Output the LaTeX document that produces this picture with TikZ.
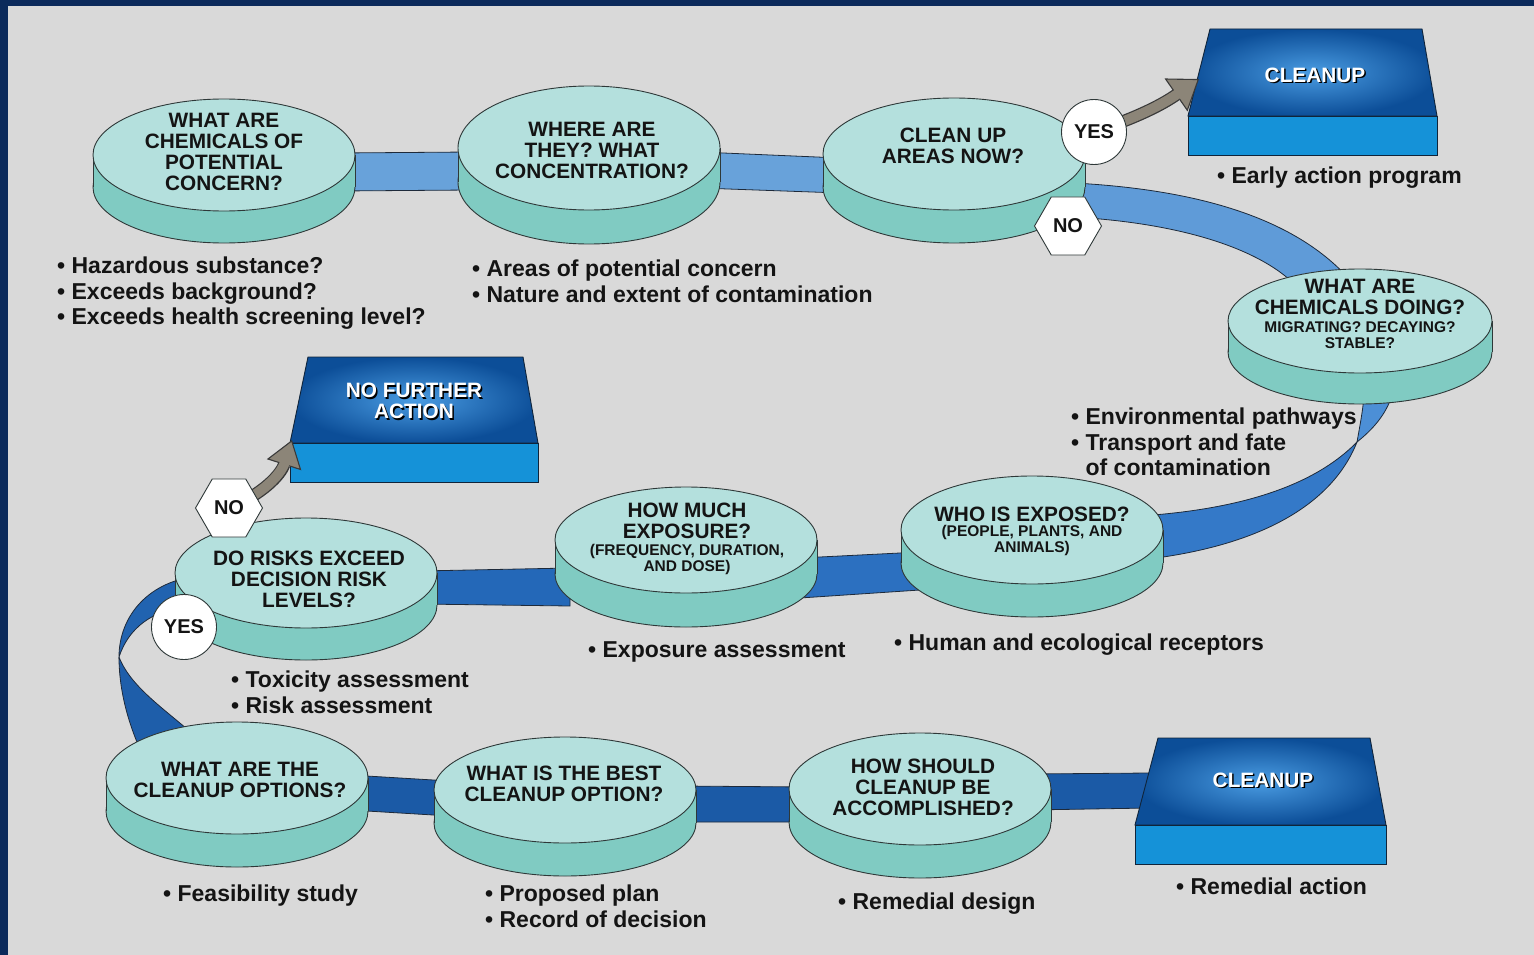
\documentclass[tikz,border=0pt]{standalone}
\usepackage{fontspec}
\setmainfont{Liberation Sans}
\usetikzlibrary{shapes.geometric,arrows.meta}

\definecolor{paper}{HTML}{D9D9D9}
\definecolor{frame}{HTML}{0B2A5B}
\definecolor{diskface}{HTML}{B4E0DD}
\definecolor{diskside}{HTML}{80CBC2}
\definecolor{diskedge}{HTML}{2E3838}
\definecolor{ink}{HTML}{141414}
\definecolor{bandA}{HTML}{68A2DA}
\definecolor{bandC}{HTML}{5F9BD8}
\definecolor{bandDa}{HTML}{4C8FD6}
\definecolor{bandDb}{HTML}{3479C8}
\definecolor{bandE}{HTML}{2C70C0}
\definecolor{bandF}{HTML}{2468B8}
\definecolor{bandGa}{HTML}{2163B0}
\definecolor{bandGb}{HTML}{1E5EAA}
\definecolor{bandH}{HTML}{1B5AA6}
\definecolor{bandedge}{HTML}{1E2A3A}
\definecolor{slabdark}{HTML}{0C4E98}
\definecolor{slablight}{HTML}{4A9CE2}
\definecolor{slabfront}{HTML}{1592D8}
\definecolor{slabline}{HTML}{10243A}
\definecolor{arrowgray}{HTML}{8C8578}
\definecolor{arrowedge}{HTML}{3A3A3A}

% cylinder-like disk: centre x, centre y of the top face, x radius, y radius, depth
\newcommand{\drawdisk}[5]{%
  \fill[diskside] (#1,#2+#5) ellipse[x radius=#3pt, y radius=#4pt];
  \draw[diskline] (#1,#2+#5) ellipse[x radius=#3pt, y radius=#4pt];
  \fill[diskside] (#1-#3,#2) rectangle (#1+#3,#2+#5);
  \draw[diskline] (#1-#3,#2) -- (#1-#3,#2+#5) (#1+#3,#2) -- (#1+#3,#2+#5);
  \filldraw[fill=diskface, diskline] (#1,#2) ellipse[x radius=#3pt, y radius=#4pt];
}

% raised slab: top-left x, top-right x, top y, lower-left x, lower-right x, edge y, bottom y
\newcommand{\drawslab}[7]{%
  \shade[inner color=slablight, outer color=slabdark] (#1,#3) -- (#2,#3) -- (#5,#6) -- (#4,#6) -- cycle;
  \draw[slabedge] (#1,#3) -- (#2,#3) -- (#5,#6) -- (#4,#6) -- cycle;
  \filldraw[fill=slabfront, slabedge] (#4,#6) rectangle (#5,#7);
}

\newcommand{\disktext}{\fontsize{20.8}{21}\selectfont\bfseries}
\newcommand{\disksmall}{\fontsize{15.5}{16}\selectfont\bfseries}
\newcommand{\notetext}{\fontsize{23}{25.5}\selectfont\bfseries}

\begin{document}
\begin{tikzpicture}[x=1pt, y=-1pt,
  diskline/.style={draw=diskedge, line width=0.9pt},
  slabedge/.style={draw=slabline, line width=0.9pt},
  band/.style={draw=bandedge, line width=0.8pt},
  label/.style={text=ink, align=center, inner sep=0pt, font=\disktext},
  sublabel/.style={text=ink, align=center, inner sep=0pt, font=\disksmall},
  note/.style={text=ink, align=left, inner sep=0pt, anchor=north west, font=\notetext},
  slabtext/.style={text=white, align=center, inner sep=0pt, font=\disktext},
  slabshadow/.style={text=black, align=center, inner sep=0pt, font=\disktext},
  yesmark/.style={circle, draw=diskedge, fill=white, line width=0.9pt, minimum size=65pt, inner sep=0pt, font=\fontsize{20}{20}\selectfont\bfseries, text=ink},
  nomark/.style={regular polygon, regular polygon sides=6, draw=diskedge, fill=white, line width=0.9pt, minimum size=67pt, inner sep=0pt, font=\fontsize{20}{20}\selectfont\bfseries, text=ink},
  shaftline/.style={line width=12.5pt, draw=arrowedge},
  shaftfill/.style={line width=10pt, draw=arrowgray}
]
\useasboundingbox (0,0) rectangle (1534,955);
\fill[frame] (0,0) rectangle (1534,955);
\fill[paper] (8,6) rectangle (1534,955);

% ---------------- ribbon ----------------
\filldraw[fill=bandA, band] (340,153) -- (470,152) -- (470,190) -- (340,191) -- cycle;
\filldraw[fill=bandA, band] (700,152) -- (840,158) -- (840,193) -- (700,188) -- cycle;
\filldraw[fill=bandC, band] (1050,182) .. controls (1180,186) and (1290,212) .. (1350,280)
  -- (1300,290) .. controls (1265,250) and (1180,220) .. (1050,216) -- cycle;
\coordinate (twistR) at (1357,442);
\filldraw[fill=bandDa, band] (1364,395) -- (1392,395) .. controls (1386,415) and (1372,430) .. (twistR)
  .. controls (1360,425) and (1363,410) .. cycle;
\filldraw[fill=bandDb, band] (twistR) .. controls (1310,490) and (1230,510) .. (1140,516)
  -- (1140,560) .. controls (1250,548) and (1330,510) .. (twistR);
\filldraw[fill=bandE, band] (800,558) -- (920,552) -- (920,590) -- (800,598) -- cycle;
\filldraw[fill=bandF, band] (420,571) -- (570,568) -- (570,606) -- (420,604) -- cycle;
\coordinate (twistL) at (119,657);
\filldraw[fill=bandGa, band] (200,576) .. controls (150,580) and (119,615) .. (twistL)
  .. controls (128,630) and (150,608) .. (200,604) -- cycle;
\filldraw[fill=bandGb, band] (twistL) .. controls (119,690) and (128,725) .. (145,760)
  -- (205,745) .. controls (170,712) and (132,690) .. (twistL);
\filldraw[fill=bandH, band] (350,775) -- (450,781) -- (450,816) -- (350,810) -- cycle;
\filldraw[fill=bandH, band] (680,786) -- (805,787) -- (805,822) -- (680,822) -- cycle;
\filldraw[fill=bandH, band] (1030,774) -- (1150,773) -- (1150,808) -- (1030,810) -- cycle;

% ---------------- disks ----------------
\drawdisk{224}{155}{131}{56}{32}
\drawdisk{589}{148}{131}{62}{34}
\drawdisk{954}{154}{131}{56}{33}
\drawdisk{1360}{321}{132}{52}{31}
\drawdisk{1032}{530}{131}{54}{33}
\drawdisk{686}{540}{131}{53}{34}
\drawdisk{306}{573}{131}{55}{32}
\drawdisk{237}{778}{131}{56}{33}
\drawdisk{565}{790}{131}{53}{33}
\drawdisk{920}{789}{131}{56}{33}

% ---------------- slabs ----------------
\drawslab{1210}{1422}{29}{1188}{1437}{116}{155}
\drawslab{308}{523}{357}{290}{538}{443}{482}
\drawslab{1158}{1370}{738}{1135}{1386}{825}{864}

% ---------------- decision arrows ----------------
\coordinate (yesApos) at (1094,132);
\coordinate (noApos) at (1068,226);
\coordinate (noBpos) at (229,508);
\coordinate (yesBpos) at (184,627);
\coordinate (cleanAin) at (1199,79);
\coordinate (stopin) at (292,440);

\draw[shaftline, -{Triangle[length=28pt, width=40pt, fill=arrowgray, line width=1.1pt]}]
  (yesApos) to[bend right=8] (cleanAin);
\draw[shaftfill, shorten >=26pt] (yesApos) to[bend right=8] (cleanAin);
\draw[shaftline, -{Triangle[length=26pt, width=36pt, fill=arrowgray, line width=1.1pt]}]
  (noBpos) to[bend right=25] (stopin);
\draw[shaftfill, shorten >=24pt] (noBpos) to[bend right=25] (stopin);

\node[yesmark] (yesA) at (yesApos) {YES};
\node[nomark] (noA) at (noApos) {NO};
\node[nomark] (noB) at (noBpos) {NO};
\node[yesmark] (yesB) at (yesBpos) {YES};

% ---------------- disk labels ----------------
\node[label] (d1) at (224,152) {WHAT ARE\\CHEMICALS OF\\POTENTIAL\\CONCERN?};
\node[label] (d2) at (592,150) {WHERE ARE\\THEY? WHAT\\CONCENTRATION?};
\node[label] (d3) at (953,146) {CLEAN UP\\AREAS NOW?};
\node[label] (d4) at (1360,297) {WHAT ARE\\CHEMICALS DOING?};
\node[sublabel] (d4sub) at (1360,335) {MIGRATING? DECAYING?\\STABLE?};
\node[label] (d5) at (1032,514) {WHO IS EXPOSED?};
\node[sublabel] (d5sub) at (1032,540) {(PEOPLE, PLANTS, AND\\ANIMALS)};
\node[label] (d6) at (687,521) {HOW MUCH\\EXPOSURE?};
\node[sublabel] (d6sub) at (687,559) {(FREQUENCY, DURATION,\\AND DOSE)};
\node[label] (d7) at (309,579) {DO RISKS EXCEED\\DECISION RISK\\LEVELS?};
\node[label] (d8) at (240,780) {WHAT ARE THE\\CLEANUP OPTIONS?};
\node[label] (d9) at (564,784) {WHAT IS THE BEST\\CLEANUP OPTION?};
\node[label] (d10) at (923,787) {HOW SHOULD\\CLEANUP BE\\ACCOMPLISHED?};

% ---------------- slab labels ----------------
\node[slabshadow] (s1sh) at (1316.5,76.5) {CLEANUP};
\node[slabtext] (s1) at (1315,75) {CLEANUP};
\node[slabshadow] (s2sh) at (415.5,402.5) {NO FURTHER\\ACTION};
\node[slabtext] (s2) at (414,401) {NO FURTHER\\ACTION};
\node[slabshadow] (s3sh) at (1264.5,781.5) {CLEANUP};
\node[slabtext] (s3) at (1263,780) {CLEANUP};

% ---------------- notes ----------------
\node[note] (n1) at (57,257) {• Hazardous substance?\\• Exceeds background?\\• Exceeds health screening level?};
\node[note] (n2) at (472,260) {• Areas of potential concern\\• Nature and extent of contamination};
\node[note] (n3) at (1217,167) {• Early action program};
\node[note] (n4) at (1071,408) {• Environmental pathways\\• Transport and fate\\\phantom{• }of contamination};
\node[note] (n5) at (894,634) {• Human and ecological receptors};
\node[note] (n6) at (588,641) {• Exposure assessment};
\node[note] (n7) at (231,671) {• Toxicity assessment\\• Risk assessment};
\node[note] (n8) at (163,885) {• Feasibility study};
\node[note] (n9) at (485,885) {• Proposed plan\\• Record of decision};
\node[note] (n10) at (838,893) {• Remedial design};
\node[note] (n11) at (1176,878) {• Remedial action};
\end{tikzpicture}
\end{document}
